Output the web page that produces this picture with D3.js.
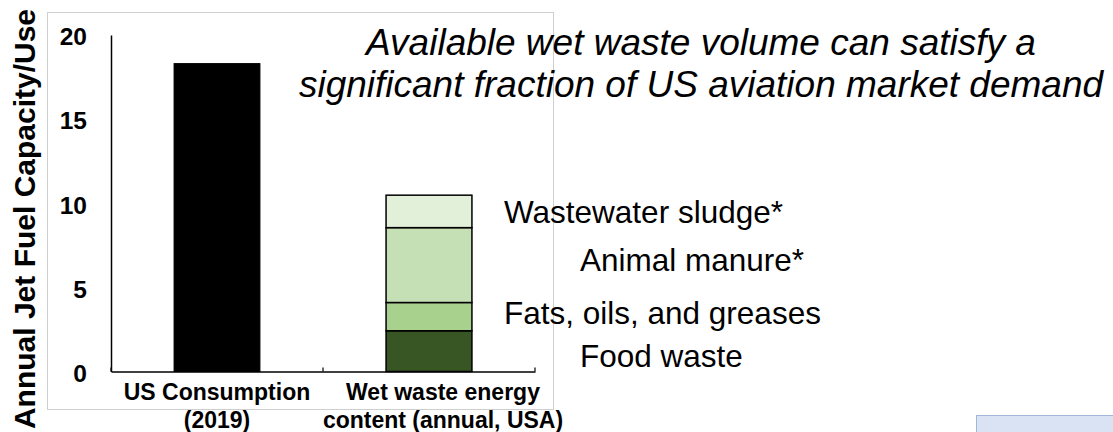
<!DOCTYPE html>
<html>
<head>
<meta charset="utf-8">
<script src="https://cdn.jsdelivr.net/npm/d3@7"></script>
<style>
  html, body { margin: 0; padding: 0; background: #fff; }
  svg { display: block; font-family: "Liberation Sans", Arial, sans-serif; }
</style>
</head>
<body>
<svg id="chart" width="1113" height="432"></svg>
<script>
// ---- data ----
const categories = ["US Consumption (2019)", "Wet waste energy content (annual, USA)"];
const categoryLines = [["US Consumption", "(2019)"], ["Wet waste energy", "content (annual, USA)"]];
const consumptionValue = [18.3];
const wasteNames = ["Food waste", "Fats, oils, and greases", "Animal manure*", "Wastewater sludge*"];
const wasteValues = [2.42, 1.68, 4.45, 1.93];
const wasteColors = ["#375623", "#a9d18e", "#c5e0b4", "#e2f0d9"];
const yTicks = [0, 5, 10, 15, 20];
const titleLines = ["Available wet waste volume can satisfy a", "significant fraction of US aviation market demand"];
const yTitle = "Annual Jet Fuel Capacity/Use";

// ---- layout ----
const svg = d3.select("#chart");
const x = d3.scaleBand().domain(categories).range([111, 535]).padding(0);
const y = d3.scaleLinear().domain([0, 20]).range([371.5, 35]);
const barW = x.bandwidth() * 0.405;

// slide frame box
svg.append("rect").attr("x", 47.5).attr("y", 12.5).attr("width", 506).attr("height", 397)
  .attr("fill", "none").attr("stroke", "#cfcfcf").attr("stroke-width", 1);

// bottom-right decoration
svg.append("rect").attr("x", 976.5).attr("y", 415.5).attr("width", 140).attr("height", 20)
  .attr("fill", "#dae3f3").attr("stroke", "#a4b6da").attr("stroke-width", 1);

// y axis (line only, labels)
const yAxis = d3.axisLeft(y).tickValues(yTicks).tickSize(0).tickPadding(24);
const gy = svg.append("g").attr("transform", "translate(111,0)").call(yAxis);
gy.select(".domain").attr("stroke", "#000").attr("stroke-width", 1.5);
gy.selectAll("text").attr("font-size", 24.5).attr("font-weight", "bold")
  .attr("fill", "#000").attr("font-family", "'Liberation Sans', Arial, sans-serif")
  .attr("dy", "0.4em");

// x axis
const xAxis = d3.axisBottom(x).tickSize(0).tickFormat("");
const gx = svg.append("g").attr("transform", `translate(0,${y(0)})`).call(xAxis);
gx.select(".domain").attr("stroke", "#000").attr("stroke-width", 1.5);
// tick marks at band boundaries (pointing up)
const bounds = [x.range()[0], x(categories[1]), x.range()[1]];
gx.selectAll("line.bound").data(bounds).enter().append("line").attr("class", "bound")
  .attr("x1", d => d).attr("x2", d => d).attr("y1", 0).attr("y2", -4)
  .attr("stroke", "#000").attr("stroke-width", 1.2);

// category labels
const catOffsets = [0, 14];
categories.forEach((c, i) => {
  const t = svg.append("text")
    .attr("x", x(c) + x.bandwidth() / 2 + catOffsets[i])
    .attr("y", 400)
    .attr("text-anchor", "middle")
    .attr("font-size", 23).attr("font-weight", "bold").attr("fill", "#000");
  categoryLines[i].forEach((ln, j) => {
    t.append("tspan").attr("x", x(c) + x.bandwidth() / 2 + catOffsets[i])
      .attr("dy", j === 0 ? 0 : 28).text(ln);
  });
});

// consumption bar
svg.append("rect")
  .attr("x", x(categories[0]) + (x.bandwidth() - barW) / 2)
  .attr("y", y(consumptionValue[0]))
  .attr("width", barW)
  .attr("height", y(0) - y(consumptionValue[0]))
  .attr("fill", "#000").attr("stroke", "#000").attr("stroke-width", 1);

// stacked waste bar
let cum = 0;
const segs = wasteValues.map((v, i) => {
  const s = { name: wasteNames[i], y0: cum, y1: cum + v, color: wasteColors[i] };
  cum += v;
  return s;
});
svg.selectAll("rect.seg").data(segs).enter().append("rect").attr("class", "seg")
  .attr("x", x(categories[1]) + (x.bandwidth() - barW) / 2)
  .attr("y", d => y(d.y1))
  .attr("width", barW)
  .attr("height", d => y(d.y0) - y(d.y1))
  .attr("fill", d => d.color)
  .attr("stroke", "#000").attr("stroke-width", 1.5);

// segment labels
const labelX = [580, 504, 580, 504];
const labelDy = [16, 7, 6, 12];
svg.selectAll("text.seglab").data(segs).enter().append("text").attr("class", "seglab")
  .attr("x", (d, i) => labelX[i])
  .attr("y", (d, i) => y((d.y0 + d.y1) / 2) + labelDy[i])
  .attr("font-size", 31.5).attr("fill", "#000")
  .text(d => d.name);

// y title
svg.append("text")
  .attr("transform", "translate(35,219) rotate(-90)")
  .attr("text-anchor", "middle")
  .attr("font-size", 30).attr("font-weight", "bold").attr("fill", "#000")
  .text(yTitle);

// title
titleLines.forEach((ln, i) => {
  svg.append("text")
    .attr("x", 701).attr("y", 55 + i * 42)
    .attr("text-anchor", "middle")
    .attr("font-size", 37).attr("font-style", "italic").attr("fill", "#000")
    .text(ln);
});
</script>
</body>
</html>
